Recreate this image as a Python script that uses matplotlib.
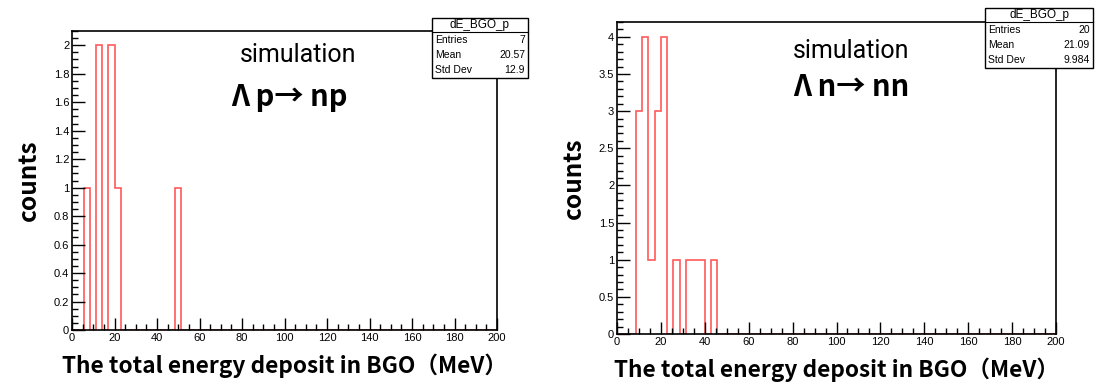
import numpy as np
import matplotlib
matplotlib.use('Agg')
import matplotlib.pyplot as plt
from matplotlib.patches import Rectangle
from matplotlib.ticker import MultipleLocator, FormatStrFormatter

# 70 bins from 0 to 200 MeV
edges = np.linspace(0, 200, 71)
counts_p = [0, 0, 1, 0, 2, 0, 2, 1, 0, 0, 0, 0, 0, 0, 0, 0, 0, 1]
counts_n = [0, 0, 0, 3, 4, 1, 3, 4, 0, 1, 0, 1, 1, 1, 0, 1]
stats_p = [('Entries', '7'), ('Mean', '20.57'), ('Std Dev', '12.9')]
stats_n = [('Entries', '20'), ('Mean', '21.09'), ('Std Dev', '9.984')]
hist_name = 'dE_BGO_p'
xlabel = 'The total energy deposit in BGO（MeV）'
ylabel = 'counts'

W, H = 1095, 387
BOLD = ['Noto Sans CJK JP', 'DejaVu Sans']
TICKF = 'Liberation Sans'


def pad(c):
    return np.array(c + [0] * (70 - len(c)), dtype=float)


def box(fig, x0, y0, x1, y1, stats):
    # ROOT-style stats box, pixel coords from top-left
    fx = lambda x: x / W
    fy = lambda y: 1 - y / H
    fig.add_artist(Rectangle((fx(x0), fy(y1)), fx(x1 - x0), (y1 - y0) / H,
                             transform=fig.transFigure, facecolor='white',
                             edgecolor='black', lw=1, zorder=5))
    hh = 14
    fig.add_artist(plt.Line2D([fx(x0), fx(x1)], [fy(y0 + hh), fy(y0 + hh)],
                              transform=fig.transFigure, color='black', lw=0.8, zorder=6))
    fig.text(fx((x0 + x1) / 2), fy(y0 + hh / 2), hist_name, ha='center', va='center',
             family=TICKF, fontsize=8.5, zorder=7)
    rh = (y1 - y0 - hh) / 3
    for i, (k, v) in enumerate(stats):
        yc = y0 + hh + rh * (i + 0.5)
        fig.text(fx(x0 + 3), fy(yc), k, ha='left', va='center', family=TICKF, fontsize=7.5, zorder=7)
        fig.text(fx(x1 - 3), fy(yc), v, ha='right', va='center', family=TICKF, fontsize=7.5, zorder=7)


def panel(fig, rect, counts, ymax, major, minor, title, tpos, gap):
    l, t, r, b = rect
    ax = fig.add_axes([l / W, 1 - b / H, (r - l) / W, (b - t) / H])
    ax.stairs(pad(counts), edges, color='#ff5a5a', lw=1.2)
    ax.set_xlim(0, 200)
    ax.set_ylim(0, ymax)
    ax.xaxis.set_major_locator(MultipleLocator(20))
    ax.xaxis.set_minor_locator(MultipleLocator(5))
    ax.yaxis.set_major_locator(MultipleLocator(major))
    ax.yaxis.set_minor_locator(MultipleLocator(minor))
    ax.yaxis.set_major_formatter(FormatStrFormatter('%g'))
    ax.tick_params(which='both', direction='in', top=False, right=False,
                   labelsize=8, pad=2, width=1)
    ax.tick_params(which='major', length=9)
    ax.tick_params(which='minor', length=4.5)
    for lab in ax.get_xticklabels() + ax.get_yticklabels():
        lab.set_family(TICKF)
    for s in ax.spines.values():
        s.set_linewidth(1.2)
    ax.set_xlabel(xlabel, family=BOLD, fontweight='bold', fontsize=16.3, labelpad=8)
    ax.set_ylabel(ylabel, family=BOLD, fontweight='bold', fontsize=17.5, labelpad=9)
    fig.text(tpos[0] / W, 1 - tpos[1] / H, 'simulation', ha='center', va='center',
             family='Roboto', fontsize=18)
    fig.text(tpos[2] / W, 1 - (tpos[1] + gap) / H, title, ha='center', va='center',
             family=BOLD, fontweight='bold', fontsize=21)
    return ax


def main():
    fig = plt.figure(figsize=(W / 100, H / 100), dpi=100)
    panel(fig, (72, 31, 497, 330), counts_p, 2.1, 0.2, 0.05, 'Λ p→ np', (298, 55, 289), 42)
    panel(fig, (617, 22, 1056, 334), counts_n, 4.2, 0.5, 0.1, 'Λ n→ nn', (851, 51, 851), 36)
    box(fig, 432, 18, 528, 78, stats_p)
    box(fig, 985, 8, 1093, 68, stats_n)
    fig.savefig('out.png', dpi=100)


if __name__ == '__main__':
    main()
